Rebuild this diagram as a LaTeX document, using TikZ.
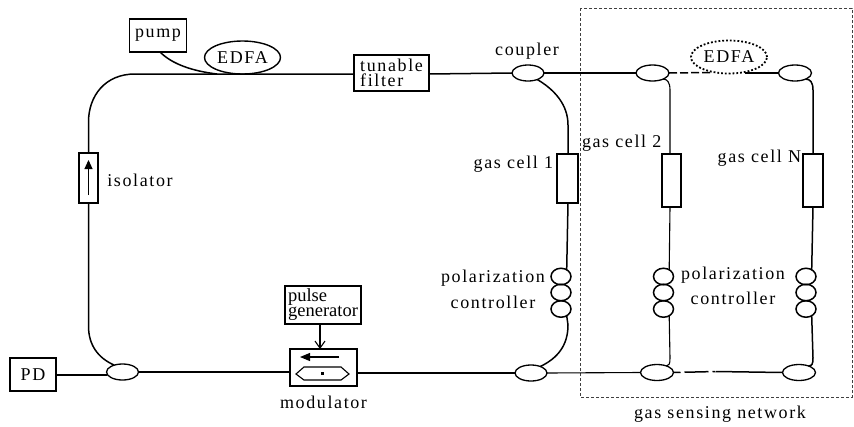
\documentclass[tikz,border=0pt]{standalone}
\usepackage{fontspec}
\setmainfont{Liberation Serif}[LetterSpace=9]
\newfontfamily\tightfont{Liberation Serif}
\usetikzlibrary{shapes.geometric,arrows.meta}
\tikzset{
  x=1pt,y=-1pt,
  wire/.style={line width=1.5pt,black},
  thin wire/.style={line width=1.1pt,black},
  boxn/.style={draw,line width=1.5pt,rectangle,inner sep=0,outer sep=0,minimum width=#1},
  boxn/.default=20pt,
  oval/.style={draw,line width=1.3pt,ellipse,inner sep=0,outer sep=0,minimum width=32pt,minimum height=16pt},
  loopn/.style={draw,line width=1.5pt,ellipse,inner sep=0,outer sep=0,minimum width=20pt,minimum height=16.5pt},
  lab/.style={font=\fontsize{18}{18}\selectfont,inner sep=0,outer sep=0},
  tight/.style={font=\fontsize{18.5}{15}\selectfont\tightfont,inner sep=0,outer sep=0,align=left},
  edfa/.style={draw,ellipse,inner sep=0,outer sep=0,minimum width=76pt,minimum height=33pt,font=\fontsize{18}{18}\selectfont},
}
\begin{document}
\begin{tikzpicture}
\useasboundingbox (0,0) rectangle (854,426);
% boxes
\node[boxn,minimum width=57pt,minimum height=33pt,lab,line width=1.5pt] (pump) at (158,35.5) {pump};
\node[edfa,line width=1.4pt] (edfa) at (242.5,57.5) {EDFA};
\node[boxn,minimum width=75pt,minimum height=36pt,tight,font=\fontsize{18}{15}\selectfont] (filter) at (391.5,73) {tunable\\filter};
\node[boxn,minimum width=19pt,minimum height=50pt] (iso) at (88.5,178) {};
\node[lab] (isolabel) at (140,180) {isolator};
\node[boxn,minimum width=46pt,minimum height=33pt,lab] (pd) at (33,374.5) {PD};
\node[oval] (cl) at (122.5,372) {};
\node[boxn,minimum width=67pt,minimum height=37pt] (mod) at (323.5,367.5) {};
\node[lab] (modlabel) at (323.5,402) {modulator};
\node[boxn,minimum width=76pt,minimum height=38pt,tight] (pulse) at (323,305) {pulse\\generator};
\node[oval] (ct1) at (528,73) {};
\node[oval] (cb1) at (531,373) {};
\node[oval,minimum width=33pt] (ct2) at (652.5,73) {};
\node[oval,minimum width=33pt] (cb2) at (657,372.5) {};
\node[oval,minimum width=33pt] (ctn) at (795,73) {};
\node[oval,minimum width=33pt] (cbn) at (799,372.5) {};
\node[lab] (couplerlabel) at (527,51) {coupler};
\node[edfa,dotted,line width=1.8pt] (edfab) at (729,57) {EDFA};
\node[boxn,minimum width=21pt,minimum height=49pt] (gc1) at (567.5,178.5) {};
\node[boxn,minimum width=19pt,minimum height=53pt] (gc2) at (671.5,180.5) {};
\node[boxn,minimum width=20pt,minimum height=53pt] (gcn) at (813,180.5) {};
\node[lab,anchor=east] (gc1label) at (553,164) {gas cell 1};
\node[lab,anchor=west] (gc2label) at (582,143) {gas cell 2};
\node[lab,anchor=east] (gcnlabel) at (801,158) {gas cell N};
\foreach \n/\x in {a/561,b/663.5,c/806}{
  \node[loopn] (p\n1) at (\x,276.5) {};
  \node[loopn] (p\n2) at (\x,292.5) {};
  \node[loopn] (p\n3) at (\x,309) {};
}
\node[lab,align=center] (polaA) at (493,278) {polarization};
\node[lab] (polaB) at (493,302) {controller};
\node[lab] (polbA) at (733,275) {polarization};
\node[lab] (polbB) at (733,298) {controller};
\node[lab] (netlabel) at (720,414) {gas sensing network};
% dashed network frame
\coordinate (nw) at (580,8);
\coordinate (se) at (852,397);
\draw[line width=0.7pt,dash pattern=on 3pt off 2pt,black!75] (nw) rectangle (se);
% ring, top
\coordinate (tl) at (135,74);
\coordinate (lt) at (88.5,122);
\coordinate (lb) at (88.5,326);
\draw[wire] (filter.west |- 0,74) -- (tl) .. controls (105,74) and (88.5,96) .. (lt) -- (iso.north);
\draw[wire] (iso.south) -- (lb) .. controls (88.5,345) and (98,358) .. (cl.140);
\draw[wire] (filter.east |- 0,74) -- (ct1.west);
\draw[wire] (pump.south) ++(2,0) .. controls (172,64) and (192,71) .. (217,74);
% isolator arrow
\coordinate (isot) at (88.5,160);
\coordinate (isob) at (88.5,195);
\draw[thin wire,-{Triangle[length=9pt,width=8pt]}] (isob) -- (isot);
% bottom
\draw[thin wire] (pd.east |- 0,375) -- (cl.west |- 0,375);
\draw[thin wire] (cl.east) -- (mod.west |- cl.east);
\draw[thin wire] (mod.east |- 0,373) -- (cb1.west);
\draw[thin wire] (cb1.east) -- (cb2.west);
% modulator internals
\coordinate (ma) at (339,357);
\coordinate (mb) at (300,357);
\draw[thin wire,-{Triangle[length=10pt,width=8pt]}] (ma) -- (mb);
\node[draw,line width=1.1pt,inner sep=0] (hex) at (322.5,373.5) {};
\draw[line width=1.1pt] (296,374) -- (304,367) -- (341,367) -- (349,374) -- (341,380) -- (304,380) -- cycle;
% pulse arrow
\draw[line width=1.1pt,-{Straight Barb[length=7pt,width=10pt]}] (pulse.south -| 320,0) -- (mod.north -| 320,0);
% first branch
\draw[wire] (ct1.-35) .. controls (555,90) and (568,105) .. (568,125) -- (gc1.north -| 568,0);
\draw[wire] (gc1.south -| 568,0) -- (pa1.50);
\draw[wire] (pa3.-50) -- (568,325) .. controls (568,345) and (558,358) .. (cb1.35);
% top link
\draw[thin wire] (ct1.east) -- (ct2.west);
\draw[wire,dash pattern=on 8pt off 3pt] (ct2.east) -- (710,72.5);
\draw[wire] (745,73) -- (ctn.west);
% second branch
\draw[thin wire] (ct2.-30) .. controls (667,79) and (670,82) .. (670,90) -- (gc2.north -| 670,0);
\draw[thin wire] (gc2.south -| 670,0) -- (pb1.50);
\draw[thin wire] (pb3.-50) -- (670,358) .. controls (670,364) and (669,366) .. (cb2.35);
% third branch
\draw[wire] (ctn.-30) .. controls (810,79) and (813,82) .. (813,90) -- (gcn.north);
\draw[wire] (gcn.south) -- (pc1.50);
\draw[wire] (pc3.-50) -- (813,358) .. controls (813,364) and (812,366) .. (cbn.35);
% bottom broken link
\draw[wire,dash pattern=on 7pt off 4pt on 24pt off 4pt on 3pt off 1pt] (cb2.east) -- (716,371.5);
\draw[wire] (716,371.5) -- (cbn.west);
\end{tikzpicture}
\end{document}
